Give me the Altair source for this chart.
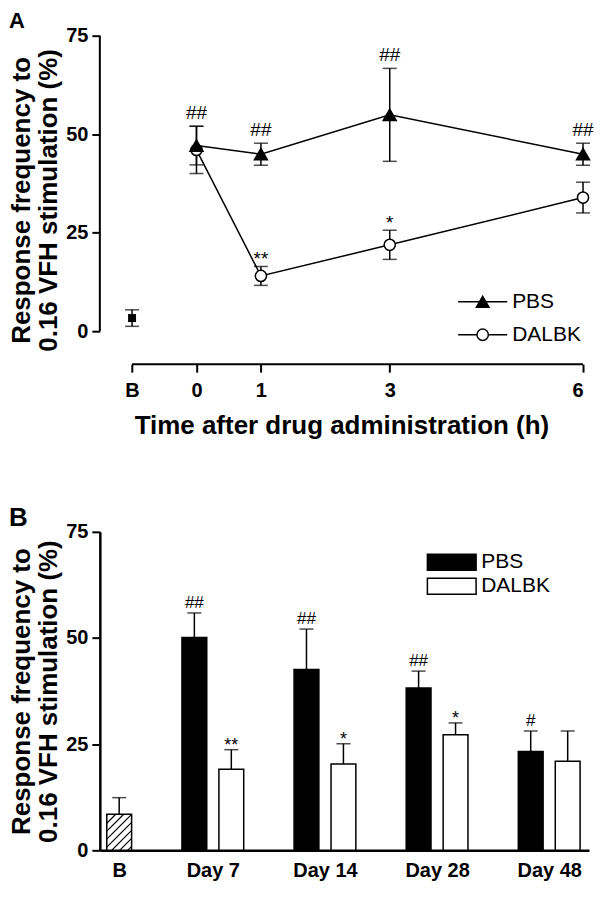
import json
import altair as alt
import pandas as pd

FONT = "Liberation Sans"

# ---------------- Panel A data ----------------
time_h = [0, 1, 3, 6]
pbs_mean_a = [47.1, 44.9, 54.9, 44.9]
pbs_sem_a = [4.9, 2.8, 11.8, 2.8]
pbs_sig_a = ["##", "##", "##", "##"]
dal_mean_a = [46.0, 14.0, 21.9, 33.9]
dal_sem_a = [6.0, 2.4, 3.7, 3.9]
dal_sig_a = ["", "**", "*", ""]
base_mean_a = 3.3
base_sem_a = 2.1
base_x_a = -1
x_ticks_a = [-1, 0, 1, 3, 6]
x_labels_a = ["B", "0", "1", "3", "6"]
y_ticks = [0, 25, 50, 75]

# ---------------- Panel B data ----------------
days_b = ["Day 7", "Day 14", "Day 28", "Day 48"]
pbs_mean_b = [50.1, 42.6, 38.2, 23.3]
pbs_sem_b = [5.8, 9.5, 4.0, 4.8]
pbs_sig_b = ["##", "##", "##", "#"]
dal_mean_b = [19.1, 20.3, 27.2, 21.0]
dal_sem_b = [4.6, 4.8, 2.8, 7.1]
dal_sig_b = ["**", "*", "*", ""]
base_mean_b = 8.5
base_sem_b = 3.9
base_label_b = "B"

series = ["PBS", "DALBK"]
y_title = ["Response frequency to", "0.16 VFH stimulation (%)"]

# layout (panel A uses detached axes: gap between axes and data range)
A_GAP_X = 0.5     # hours left of the first tick
A_GAP_Y = 8.4     # % below zero
WA, HA = 484, 329
WB, HB = 490, 319


def y_axis(domain, title_padding):
    return alt.Axis(values=y_ticks, title=y_title, domain=domain, tickSize=8, tickWidth=2,
                    domainWidth=2.5, domainColor="black", tickColor="black",
                    labelFont=FONT, labelFontSize=20, labelFontWeight="bold", labelColor="black",
                    labelPadding=4, minExtent=36, maxExtent=36,
                    titleFont=FONT, titleFontSize=26, titleFontWeight="bold",
                    titleColor="black", titleLineHeight=27, titlePadding=title_padding, grid=False)


# ---------------- Panel A ----------------
rows = []
for s, means, sems, sigs in [("DALBK", dal_mean_a, dal_sem_a, dal_sig_a),
                             ("PBS", pbs_mean_a, pbs_sem_a, pbs_sig_a)]:
    for t, m, e, g in zip(time_h, means, sems, sigs):
        rows.append(dict(series=s, x=t, mean=m, lo=m - e, hi=m + e, sig=g))
dfa = pd.DataFrame(rows)
dfa_base = pd.DataFrame([dict(series="B", x=base_x_a, mean=base_mean_a,
                              lo=base_mean_a - base_sem_a, hi=base_mean_a + base_sem_a, sig="")])
dfa_all = pd.concat([dfa, dfa_base], ignore_index=True)
caps_a = pd.concat([dfa_all[["x", "lo"]].rename(columns={"lo": "v"}),
                    dfa_all[["x", "hi"]].rename(columns={"hi": "v"})], ignore_index=True)

x_lo_a = min(x_ticks_a) - A_GAP_X
y_lo_a = min(y_ticks) - A_GAP_Y
xa = alt.Scale(domain=[x_lo_a, max(x_ticks_a)], nice=False, zero=False)
ya = alt.Scale(domain=[y_lo_a, max(y_ticks)], nice=False, zero=False)
label_expr_a = f"{json.dumps(x_labels_a)}[indexof({json.dumps(x_ticks_a)}, datum.value)]"
ax_xa = alt.Axis(values=x_ticks_a, labelExpr=label_expr_a, title="Time after drug administration (h)",
                 domain=False, tickSize=8, tickWidth=2, tickColor="black", labelFont=FONT,
                 labelFontSize=20, labelFontWeight="bold", labelColor="black", labelPadding=8,
                 titleFont=FONT, titleFontSize=26, titleFontWeight="bold", titleColor="black",
                 titlePadding=12, grid=False)
ax_ya = y_axis(False, 2)

XA = alt.X("x:Q", scale=xa, axis=ax_xa)


def YA(f):
    return alt.Y(f"{f}:Q", scale=ya, axis=ax_ya)


# detached axis lines
axis_lines_a = pd.DataFrame([
    dict(x=min(x_ticks_a), x2=max(x_ticks_a), y=y_lo_a, y2=y_lo_a),
    dict(x=x_lo_a, x2=x_lo_a, y=min(y_ticks), y2=max(y_ticks)),
])
axes_a = alt.Chart(axis_lines_a).mark_rule(color="black", strokeWidth=2).encode(
    x=XA, x2="x2:Q", y=YA("y"), y2="y2:Q")

pbs_path = "M-4.1,0L4.1,0M0,-0.9L1.05,0.9L-1.05,0.9Z"
dal_path = "M-4.1,0L-0.95,0M0.95,0L4.1,0M-0.95,0A0.95,0.95,0,1,1,0.95,0A0.95,0.95,0,1,1,-0.95,0Z"
legend_a = alt.Legend(title=None, orient="none", legendX=373, legendY=256, labelFont=FONT,
                      labelFontSize=21, labelColor="black", symbolSize=144, rowPadding=11,
                      padding=0, labelOffset=19, symbolStrokeWidth=1.5, symbolOpacity=1)

lines_a = alt.Chart(dfa).mark_line(color="black", strokeWidth=1.5).encode(
    x=XA, y=YA("mean"), detail="series:N")
err_a = alt.Chart(dfa_all).mark_rule(color="black", strokeWidth=1.5).encode(
    x=XA, y=YA("lo"), y2="hi:Q")
caps_la = alt.Chart(caps_a).mark_tick(color="black", thickness=1.5, size=14,
                                      orient="horizontal").encode(x=XA, y=YA("v"))
pts_a = alt.Chart(dfa).mark_point(filled=True, stroke="black", strokeWidth=1.5, opacity=1).encode(
    x=XA, y=YA("mean"),
    shape=alt.Shape("series:N", scale=alt.Scale(domain=series, range=["triangle-up", "circle"]),
                    legend=None),
    fill=alt.Fill("series:N", scale=alt.Scale(domain=series, range=["black", "white"]), legend=None),
    size=alt.Size("series:N", scale=alt.Scale(domain=series, range=[170, 125]), legend=None),
)
# legend-only layer (no data drawn): line + marker symbols
legend_layer_a = alt.Chart(dfa).transform_filter("false").mark_point(
    filled=True, strokeWidth=1.5, opacity=1).encode(
    x=XA, y=YA("mean"),
    shape=alt.Shape("series:N", scale=alt.Scale(domain=series, range=[pbs_path, dal_path]),
                    legend=legend_a),
    fill=alt.Fill("series:N", scale=alt.Scale(domain=series, range=["black", "white"]),
                  legend=legend_a),
    stroke=alt.Stroke("series:N", scale=alt.Scale(domain=series, range=["black", "black"]),
                      legend=legend_a),
)
base_pt_a = alt.Chart(dfa_base).mark_square(size=64, color="black", opacity=1).encode(
    x=XA, y=YA("mean"))
hash_a = alt.Chart(dfa).transform_filter("indexof(datum.sig, '#') >= 0").mark_text(
    font=FONT, fontSize=19, baseline="alphabetic", dy=-7, color="black").encode(
    x=XA, y=YA("hi"), text="sig:N")
star_a = alt.Chart(dfa).transform_filter("indexof(datum.sig, '*') >= 0").mark_text(
    font=FONT, fontSize=19, baseline="alphabetic", dy=-1, color="black").encode(
    x=XA, y=YA("hi"), text="sig:N")

panel_a = alt.layer(axes_a, lines_a, err_a, caps_la, pts_a, legend_layer_a, base_pt_a, hash_a,
                    star_a).resolve_scale(shape="independent", fill="independent",
                                          stroke="independent").properties(
    width=WA, height=HA,
    title=alt.TitleParams("A", anchor="start", frame="bounds", font=FONT, fontSize=22,
                          fontWeight="bold", color="black", offset=-7))

# ---------------- Panel B ----------------
BAR_W = 1.0
INNER_GAP = 0.49
GROUP_GAP = 2.03
LEFT_PAD = 0.28
RIGHT_PAD = 0.36

base_x0 = LEFT_PAD
cur = base_x0 + BAR_W + GROUP_GAP
brows = []
centers = [base_x0 + BAR_W / 2]
for i, d in enumerate(days_b):
    p0 = cur
    d0 = p0 + BAR_W + INNER_GAP
    for s, x0, m, e, g in [("PBS", p0, pbs_mean_b[i], pbs_sem_b[i], pbs_sig_b[i]),
                           ("DALBK", d0, dal_mean_b[i], dal_sem_b[i], dal_sig_b[i])]:
        brows.append(dict(series=s, day=d, x0=x0, x1=x0 + BAR_W, xc=x0 + BAR_W / 2,
                          mean=m, hi=m + e, zero=0, sig=g))
    centers.append((p0 + d0 + BAR_W) / 2)
    cur = d0 + BAR_W + GROUP_GAP
xmax_b = cur - GROUP_GAP + RIGHT_PAD
dfb = pd.DataFrame(brows)
dfb_base = pd.DataFrame([dict(series="B", day=base_label_b, x0=base_x0, x1=base_x0 + BAR_W,
                              xc=base_x0 + BAR_W / 2, mean=base_mean_b,
                              hi=base_mean_b + base_sem_b, zero=0, sig="")])
dfb_all = pd.concat([dfb, dfb_base], ignore_index=True)

# diagonal hatch of the baseline bar (computed in pixel space, mapped back to data units)
kx = WB / xmax_b
ky = HB / 75.0
bw_px = BAR_W * kx
bh_px = base_mean_b * ky
step = 8.0
hatch = []
c = -bw_px + step / 2
while c < bh_px:
    px0 = max(0.0, -c)
    px1 = min(bw_px, bh_px - c)
    if px1 > px0:
        hatch.append(dict(hx0=base_x0 + px0 / kx, hx1=base_x0 + px1 / kx,
                          hy0=(px0 + c) / ky, hy1=(px1 + c) / ky))
    c += step
dfh = pd.DataFrame(hatch)

xb = alt.Scale(domain=[0, xmax_b], nice=False, zero=False)
yb = alt.Scale(domain=[0, 75], nice=False, zero=False)
cat_labels = [base_label_b] + days_b
label_expr_b = f"{json.dumps(cat_labels)}[indexof({json.dumps(centers)}, datum.value)]"
ax_xb = alt.Axis(values=centers, labelExpr=label_expr_b, title=None, ticks=False, domainWidth=2.5,
                 domainColor="black", labelFont=FONT, labelFontSize=20, labelFontWeight="bold",
                 labelColor="black", labelPadding=10, grid=False)
ax_yb = y_axis(True, 2)


def XB(f):
    return alt.X(f"{f}:Q", scale=xb, axis=ax_xb)


def YB(f):
    return alt.Y(f"{f}:Q", scale=yb, axis=ax_yb)


bar_path = "M-3.05,-1L3.05,-1L3.05,1L-3.05,1Z"
legend_b = alt.Legend(title=None, orient="none", legendX=342, legendY=20, symbolType=bar_path,
                      symbolSize=256, symbolStrokeColor="black", symbolStrokeWidth=1.5,
                      labelFont=FONT, labelFontSize=21, labelColor="black", labelOffset=19,
                      rowPadding=1, padding=0, symbolOpacity=1)

bars_b = alt.Chart(dfb).mark_rect(stroke="black", strokeWidth=1.5, opacity=1).encode(
    x=XB("x0"), x2="x1:Q", y=YB("mean"), y2="zero:Q",
    fill=alt.Fill("series:N", scale=alt.Scale(domain=series, range=["black", "white"]),
                  legend=legend_b))
base_bar_b = alt.Chart(dfb_base).mark_rect(fill="white", stroke="black", strokeWidth=1.5).encode(
    x=XB("x0"), x2="x1:Q", y=YB("mean"), y2="zero:Q")
hatch_b = alt.Chart(dfh).mark_rule(color="black", strokeWidth=1.2).encode(
    x=XB("hx0"), x2="hx1:Q", y=YB("hy0"), y2="hy1:Q")
err_b = alt.Chart(dfb_all).mark_rule(color="black", strokeWidth=1.5).encode(
    x=XB("xc"), y=YB("mean"), y2="hi:Q")
caps_b = alt.Chart(dfb_all).mark_tick(color="black", thickness=1.5, size=14,
                                      orient="horizontal").encode(x=XB("xc"), y=YB("hi"))
hash_b = alt.Chart(dfb).transform_filter("indexof(datum.sig, '#') >= 0").mark_text(
    font=FONT, fontSize=17, baseline="alphabetic", dy=-5, color="black").encode(
    x=XB("xc"), y=YB("hi"), text="sig:N")
star_b = alt.Chart(dfb).transform_filter("indexof(datum.sig, '*') >= 0").mark_text(
    font=FONT, fontSize=18, baseline="alphabetic", dy=1, color="black").encode(
    x=XB("xc"), y=YB("hi"), text="sig:N")

panel_b = alt.layer(bars_b, base_bar_b, hatch_b, err_b, caps_b, hash_b, star_b).properties(
    width=WB, height=HB,
    title=alt.TitleParams("B", anchor="start", frame="bounds", font=FONT, fontSize=26,
                          fontWeight="bold", color="black", offset=-9))

chart = alt.vconcat(panel_a, panel_b, spacing=65).resolve_scale(
    fill="independent", shape="independent", stroke="independent", size="independent"
).resolve_legend(fill="independent", shape="independent", stroke="independent",
                 size="independent").properties(padding=0, background="white").configure_view(
    stroke="transparent")

chart.save("out.html", embed_options={"renderer": "svg", "actions": False})
